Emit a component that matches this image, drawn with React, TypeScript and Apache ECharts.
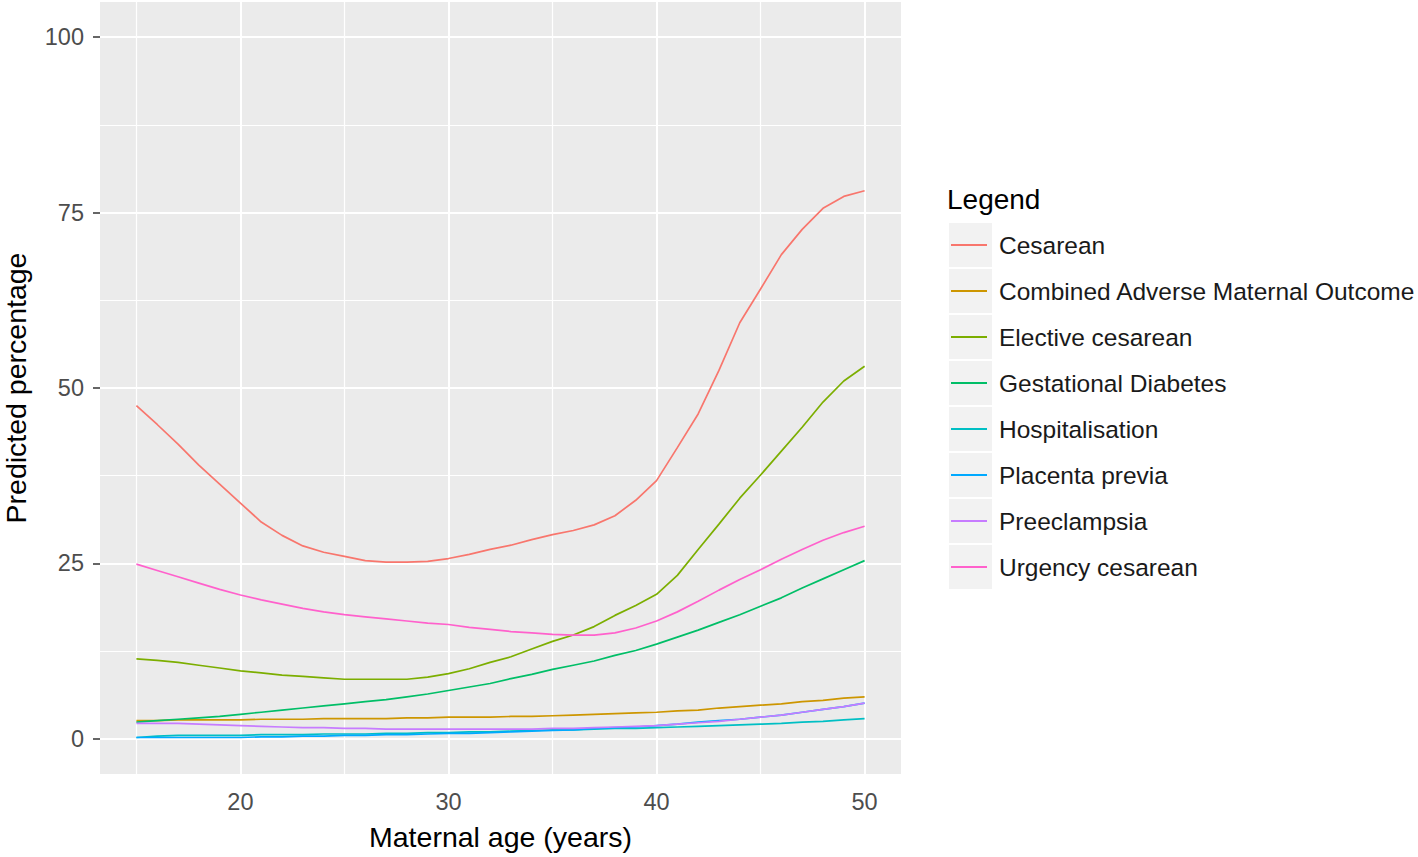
import React, { useEffect, useRef } from "react";
import * as echarts from "echarts";

const ages = [15, 16, 17, 18, 19, 20, 21, 22, 23, 24, 25, 26, 27, 28, 29, 30, 31, 32, 33, 34, 35, 36, 37, 38, 39, 40, 41, 42, 43, 44, 45, 46, 47, 48, 49, 50];

const cesarean = [47.5, 44.8, 42.0, 39.0, 36.3, 33.6, 30.9, 29.0, 27.5, 26.6, 26.0, 25.4, 25.2, 25.2, 25.3, 25.7, 26.3, 27.0, 27.6, 28.4, 29.1, 29.7, 30.5, 31.8, 34.0, 36.8, 41.5, 46.3, 52.5, 59.3, 64.1, 69.0, 72.6, 75.6, 77.3, 78.1];
const combinedAdverse = [2.6, 2.6, 2.7, 2.7, 2.7, 2.7, 2.8, 2.8, 2.8, 2.9, 2.9, 2.9, 2.9, 3.0, 3.0, 3.1, 3.1, 3.1, 3.2, 3.2, 3.3, 3.4, 3.5, 3.6, 3.7, 3.8, 4.0, 4.1, 4.4, 4.6, 4.8, 5.0, 5.3, 5.5, 5.8, 6.0];
const electiveCesarean = [11.4, 11.2, 10.9, 10.5, 10.1, 9.7, 9.4, 9.1, 8.9, 8.7, 8.5, 8.5, 8.5, 8.5, 8.8, 9.3, 10.0, 10.9, 11.7, 12.8, 13.9, 14.8, 16.0, 17.6, 19.0, 20.6, 23.3, 27.0, 30.6, 34.3, 37.6, 41.0, 44.4, 48.0, 51.0, 53.1];
const gestationalDiabetes = [2.4, 2.6, 2.8, 3.0, 3.2, 3.5, 3.8, 4.1, 4.4, 4.7, 5.0, 5.3, 5.6, 6.0, 6.4, 6.9, 7.4, 7.9, 8.6, 9.2, 9.9, 10.5, 11.1, 11.9, 12.6, 13.5, 14.5, 15.5, 16.6, 17.7, 18.9, 20.1, 21.5, 22.8, 24.1, 25.4];
const hospitalisation = [0.2, 0.4, 0.5, 0.5, 0.5, 0.5, 0.6, 0.6, 0.6, 0.7, 0.7, 0.7, 0.8, 0.8, 0.9, 0.9, 1.0, 1.0, 1.1, 1.2, 1.3, 1.3, 1.4, 1.5, 1.5, 1.6, 1.7, 1.8, 1.9, 2.0, 2.1, 2.2, 2.4, 2.5, 2.7, 2.9];
const placentaPrevia = [0.2, 0.2, 0.2, 0.2, 0.2, 0.2, 0.3, 0.3, 0.4, 0.4, 0.5, 0.5, 0.6, 0.6, 0.7, 0.8, 0.8, 0.9, 1.0, 1.1, 1.2, 1.3, 1.5, 1.6, 1.7, 1.9, 2.1, 2.4, 2.6, 2.8, 3.1, 3.4, 3.8, 4.2, 4.6, 5.1];
const preeclampsia = [2.2, 2.2, 2.2, 2.1, 2.0, 1.9, 1.8, 1.7, 1.6, 1.6, 1.5, 1.5, 1.4, 1.4, 1.4, 1.4, 1.4, 1.4, 1.4, 1.4, 1.5, 1.5, 1.6, 1.7, 1.8, 1.9, 2.1, 2.3, 2.5, 2.8, 3.1, 3.4, 3.8, 4.2, 4.6, 5.1];
const urgencyCesarean = [24.9, 24.0, 23.1, 22.2, 21.3, 20.5, 19.8, 19.2, 18.6, 18.1, 17.7, 17.4, 17.1, 16.8, 16.5, 16.3, 15.9, 15.6, 15.3, 15.1, 14.9, 14.8, 14.8, 15.1, 15.8, 16.8, 18.1, 19.6, 21.2, 22.7, 24.1, 25.6, 27.0, 28.3, 29.4, 30.3];

const seriesNames = [
  "Cesarean",
  "Combined Adverse Maternal Outcome",
  "Elective cesarean",
  "Gestational Diabetes",
  "Hospitalisation",
  "Placenta previa",
  "Preeclampsia",
  "Urgency cesarean",
];
const seriesValues = [cesarean, combinedAdverse, electiveCesarean, gestationalDiabetes, hospitalisation, placentaPrevia, preeclampsia, urgencyCesarean];
const colors = ["#F8766D", "#CD9600", "#7CAE00", "#00BE67", "#00BFC4", "#00A9FF", "#C77CFF", "#FF61CC"];

const xTicks = [20, 30, 40, 50];
const xMinor = [15, 25, 35, 45];
const yTicks = [0, 25, 50, 75, 100];
const yMinor = [12.5, 37.5, 62.5, 87.5];

const FONT = "'Liberation Sans', Arial, sans-serif";

export default function App() {
  const ref = useRef<HTMLDivElement>(null);

  useEffect(() => {
    const chart = echarts.init(ref.current!, null, { renderer: "svg" });

    const legendTop = 223;
    const rowPitch = 46;
    const keyRects = seriesNames.map((_, i) => ({
      type: "rect",
      z: 1,
      shape: { x: 949, y: legendTop + i * rowPitch, width: 43, height: 44 },
      style: { fill: "#F2F2F2" },
    }));

    const gridMarkLines = {
      silent: true,
      z: 1,
      symbol: ["none", "none"],
      label: { show: false },
      emphasis: { disabled: true },
      data: [
        ...xTicks.map((v) => ({ xAxis: v, lineStyle: { color: "#FFFFFF", width: 2, type: "solid" } })),
        ...xMinor.map((v) => ({ xAxis: v, lineStyle: { color: "#FFFFFF", width: 1.2, type: "solid" } })),
        ...yTicks.map((v) => ({ yAxis: v, lineStyle: { color: "#FFFFFF", width: 2, type: "solid" } })),
        ...yMinor.map((v) => ({ yAxis: v, lineStyle: { color: "#FFFFFF", width: 1.2, type: "solid" } })),
      ],
    };

    const series: any[] = seriesNames.map((name, i) => ({
      name,
      type: "line",
      z: 2,
      data: ages.map((a, j) => [a, seriesValues[i][j]]),
      showSymbol: false,
      symbol: "none",
      smooth: false,
      lineStyle: { color: colors[i], width: 1.7 },
      itemStyle: { color: colors[i] },
      ...(i === 0 ? { markLine: gridMarkLines } : {}),
    }));

    chart.setOption({
      animation: false,
      backgroundColor: "#FFFFFF",
      textStyle: { fontFamily: FONT },
      title: {
        text: "Legend",
        left: 947,
        top: 185,
        padding: 0,
        textStyle: { fontSize: 28, fontWeight: "normal", color: "#000000", fontFamily: FONT },
      },
      legend: {
        orient: "vertical",
        left: 951,
        top: legendTop,
        padding: 0,
        itemGap: 2,
        itemWidth: 36,
        itemHeight: 2,
        icon: "rect",
        data: seriesNames,
        selectedMode: false,
        textStyle: { fontSize: 24.5, color: "#1A1A1A", lineHeight: 44, padding: [0, 0, 0, 7], fontFamily: FONT },
      },
      graphic: keyRects,
      grid: {
        left: 100,
        top: 2,
        width: 801,
        height: 772,
        show: true,
        backgroundColor: "#EBEBEB",
        borderWidth: 0,
        containLabel: false,
        outerBoundsMode: "none",
      },
      xAxis: {
        type: "value",
        min: 13.25,
        max: 51.75,
        name: "Maternal age (years)",
        nameLocation: "middle",
        nameGap: 48,
        nameTextStyle: { fontSize: 28.5, color: "#000000", fontFamily: FONT },
        axisLine: { show: false },
        axisTick: { show: true, length: 7, customValues: xTicks, lineStyle: { color: "#333333", width: 1.5 } },
        axisLabel: { customValues: xTicks, fontSize: 23.5, color: "#4D4D4D", margin: 16, fontFamily: FONT },
        splitLine: { show: false },
      },
      yAxis: {
        type: "value",
        min: -5,
        max: 105,
        name: "Predicted percentage",
        nameLocation: "middle",
        nameGap: 70,
        nameTextStyle: { fontSize: 28.5, color: "#000000", fontFamily: FONT },
        axisLine: { show: false },
        axisTick: { show: true, length: 7, customValues: yTicks, lineStyle: { color: "#333333", width: 1.5 } },
        axisLabel: { customValues: yTicks, fontSize: 23.5, color: "#4D4D4D", margin: 16, fontFamily: FONT },
        splitLine: { show: false },
      },
      series,
    });

    return () => chart.dispose();
  }, []);

  return <div ref={ref} style={{ position: "absolute", left: 0, top: 0, width: 1418, height: 857 }} />;
}
